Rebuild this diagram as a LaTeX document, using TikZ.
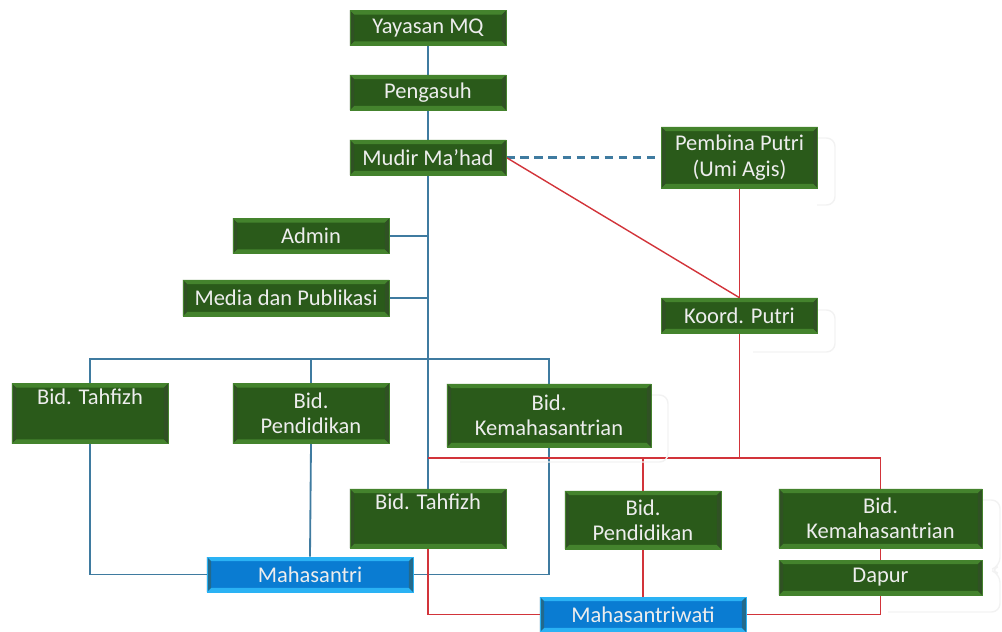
\documentclass[tikz,border=0pt]{standalone}
\usepackage{fontspec}
\setmainfont{Carlito}
\usetikzlibrary{backgrounds}

\definecolor{boxgreen}{HTML}{2A5A1A}
\definecolor{bevelgreen}{HTML}{44832D}
\definecolor{boxblue}{HTML}{0A7CD2}
\definecolor{bevelblue}{HTML}{2AB2F4}
\definecolor{linkblue}{HTML}{3F7BA0}
\definecolor{linkred}{HTML}{D2343A}
\definecolor{labelwhite}{HTML}{EDEDED}

\tikzset{
  bevel/.style={path picture={
    \fill[#1] (path picture bounding box.north west) -- (path picture bounding box.north east)
      -- ([shift={(-3pt,-3pt)}]path picture bounding box.north east)
      -- ([shift={(3pt,-3pt)}]path picture bounding box.north west) -- cycle;
    \fill[#1] (path picture bounding box.south west) -- (path picture bounding box.south east)
      -- ([shift={(-3pt,3pt)}]path picture bounding box.south east)
      -- ([shift={(3pt,3pt)}]path picture bounding box.south west) -- cycle;
    \fill[#1!55!black!95] (path picture bounding box.north west)
      -- ([shift={(3pt,-3pt)}]path picture bounding box.north west)
      -- ([shift={(3pt,3pt)}]path picture bounding box.south west)
      -- (path picture bounding box.south west) -- cycle;
    \fill[#1!55!black!95] (path picture bounding box.north east)
      -- ([shift={(-3pt,-3pt)}]path picture bounding box.north east)
      -- ([shift={(-3pt,3pt)}]path picture bounding box.south east)
      -- (path picture bounding box.south east) -- cycle;
  }},
  unit/.style={fill=boxgreen, bevel=bevelgreen, draw=bevelgreen, line width=0.4pt,
    text=labelwhite, font=\fontsize{16}{18}\selectfont, align=center, inner sep=0pt,
    minimum width=3.9cm, minimum height=0.875cm},
  members/.style={unit, fill=boxblue, bevel=bevelblue, draw=bevelblue,
    minimum width=5.15cm},
  bluelink/.style={linkblue, line width=1.3pt},
  redlink/.style={linkred, line width=1pt},
  ghost/.style={gray!10, line width=1pt, rounded corners=6pt}
}

\begin{document}
\begin{tikzpicture}[x=0.025cm,y=-0.025cm]
\useasboundingbox (0,0) rectangle (1002,632);

\node[unit] (yayasan) at (428,28) {Yayasan MQ};
\node[unit] (pengasuh) at (428,92.5) {Pengasuh};
\node[unit] (mudir) at (428,157.5) {Mudir Ma’had};
\node[unit, minimum height=1.525cm] (pembina) at (739.5,157.5) {Pembina Putri\\(Umi Agis)};
\node[unit] (admin) at (311,236) {Admin};
\node[unit, minimum width=5.15cm, minimum height=0.9cm] (media) at (286,298) {Media dan Publikasi};
\node[unit] (koord) at (739.5,315.5) {Koord. Putri};

\node[unit, minimum height=1.5cm] (tahfizhA) at (90,413.5) {Bid. Tahfizh\\\strut};
\node[unit, minimum height=1.5cm] (pendidikanA) at (311,413.5) {Bid.\\Pendidikan};
\node[unit, minimum width=5.1cm, minimum height=1.575cm] (kemahaA) at (549,415.5) {Bid.\\Kemahasantrian};

\node[unit, minimum height=1.475cm] (tahfizhB) at (428,518.5) {Bid. Tahfizh\\\strut};
\node[unit, minimum height=1.45cm] (pendidikanB) at (643,520) {Bid.\\Pendidikan};
\node[unit, minimum width=5.075cm, minimum height=1.475cm] (kemahaB) at (880.5,518.5) {Bid.\\Kemahasantrian};
\node[unit, minimum width=5.075cm] (dapur) at (880.5,577.5) {Dapur};

\node[members] (mahasantri) at (310,574.5) {Mahasantri};
\node[members] (mahasantriwati) at (643,614.5) {Mahasantriwati};

\coordinate (bus) at (0,359);
\coordinate (rbus) at (0,458);

\begin{scope}[on background layer]
% putra
\draw[bluelink] (yayasan.south) -- (tahfizhB.north);
\draw[bluelink] (admin.east) -- (admin.east -| mudir);
\draw[bluelink] (media.east) -- (media.east -| mudir);
\draw[bluelink] (tahfizhA.north) -- (tahfizhA.north |- bus) -- (kemahaA.north |- bus) -- (kemahaA.north);
\draw[bluelink] (pendidikanA.north |- bus) -- (pendidikanA.north);
\draw[bluelink] (tahfizhA.south) |- (mahasantri.west);
\draw[bluelink] (pendidikanA.south) -- (mahasantri.north);
\draw[bluelink] (kemahaA.south) |- (mahasantri.east);
\draw[bluelink, line width=1.5pt, dash pattern=on 6pt off 4pt] (mudir.east) -- (pembina.west);

% putri
\draw[redlink] (mudir.east) -- (koord.north);
\draw[redlink] (pembina.south) -- (koord.north);
\draw[redlink] (koord.south) -- (koord.south |- rbus);
\draw[redlink] (mudir.south |- rbus) -- (kemahaB.north |- rbus) -- (kemahaB.north);
\draw[redlink] (pendidikanB.north |- rbus) -- (pendidikanB.north);
\draw[redlink] (pendidikanB.south) -- (mahasantriwati.north);
\draw[redlink] (kemahaB.south) -- (dapur.north);
\draw[redlink] (dapur.south) |- (mahasantriwati.east);
\draw[redlink] (tahfizhB.south) |- (mahasantriwati.west);

% faint traces
\draw[ghost] (pembina.north east |- 0,138) -- (835,138) -- (835,205) -- (817,205);
\draw[ghost] (koord.north east |- 0,310) -- (835,310) -- (835,352) -- (753,352);
\draw[ghost] (kemahaA.north east |- 0,395) -- (668,395) -- (668,462) -- (460,462);
\draw[ghost] (kemahaB.north east |- 0,500) -- (1000,500) -- (1000,566) -- (990,570) -- (1000,574) -- (1000,612) -- (888,612);
\end{scope}
\end{tikzpicture}
\end{document}
